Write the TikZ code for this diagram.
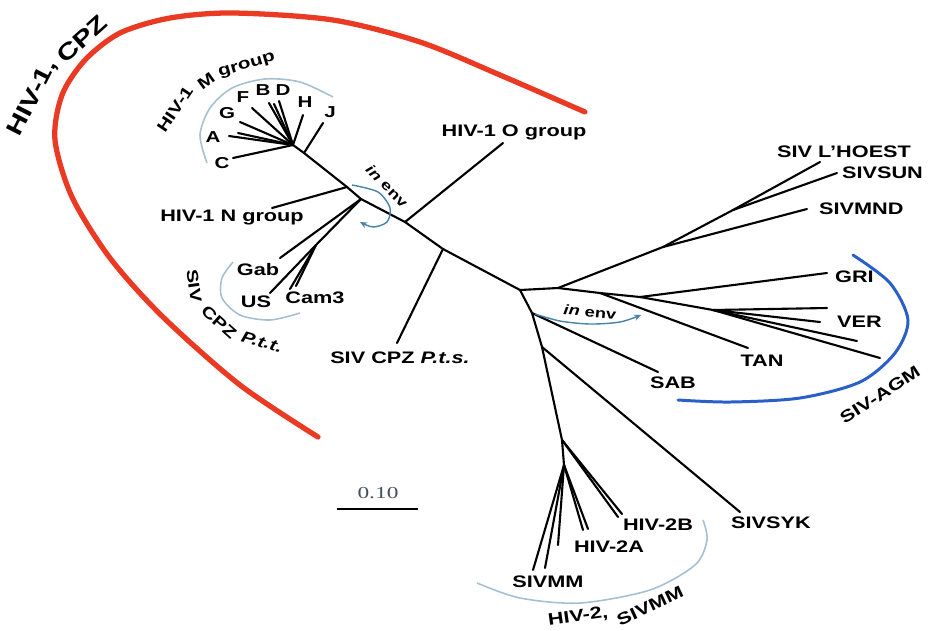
\documentclass[tikz,border=0pt]{standalone}
\usepackage{fontspec}
\setmainfont{Liberation Sans}[FakeStretch=1.3]
\newfontfamily\barfont{Liberation Serif}[FakeStretch=1.4]
\usetikzlibrary{arrows.meta}
\definecolor{cpzRed}{RGB}{234, 58, 36}
\definecolor{agmBlue}{RGB}{40, 95, 200}
\definecolor{arcGray}{RGB}{165, 192, 210}
\definecolor{envBlue}{RGB}{70, 130, 170}
\definecolor{barGray}{RGB}{70, 80, 90}
\newcommand{\lblfont}{\fontsize{9.5}{11}\selectfont\bfseries}
\tikzset{
    treeEdge/.style={
        line width=1.2pt, draw=black, line cap=round
    },
    leafLabel/.style={
        font=\lblfont, inner sep=1pt
    },
    subLabel/.style={
        font=\fontsize{9}{10}\selectfont\bfseries, inner sep=0pt
    },
    groupLabel/.style={
        font=\fontsize{9}{10}\selectfont\bfseries, inner sep=0pt
    },
    cpzLabel/.style={
        font=\fontsize{13}{15}\selectfont\bfseries, inner sep=0pt
    },
    envLabel/.style={
        font=\fontsize{8}{9}\selectfont\bfseries, inner sep=0pt
    },
    envArrow/.style={
        draw=envBlue, line width=0.8pt,
        -{Stealth[length=4pt, width=3.5pt]}
    },
    groupArc/.style={
        draw=arcGray, line width=0.9pt
    }
}

\begin{document}
\begin{tikzpicture}[x=0.02cm, y=-0.02cm]

	\useasboundingbox (0,0) rectangle (936,630);

	% =========================================================
	% Tree vertices
	% =========================================================

	% backbone
	\coordinate (m0) at (293,145);
	\coordinate (mJ) at (304,153);
	\coordinate (nN) at (347,187);
	\coordinate (nT) at (361,199);
	\coordinate (nO) at (405,222);
	\coordinate (nS) at (443,249);
	\coordinate (c0) at (520,290);

	% HIV-1 M group leaves
	\coordinate (lC)  at (233,158);
	\coordinate (lA1) at (229,136);
	\coordinate (lA2) at (238,133);
	\coordinate (lG)  at (240,122);
	\coordinate (lF)  at (252,108);
	\coordinate (lB1) at (269,103);
	\coordinate (lB2) at (274,104);
	\coordinate (lD)  at (279,101);
	\coordinate (lH)  at (303,115);
	\coordinate (lJ)  at (323,123);

	% HIV-1 N, O and chimpanzee leaves
	\coordinate (lN)    at (272,208);
	\coordinate (lO)    at (503,143);
	\coordinate (lPts)  at (397,343);
	\coordinate (t1)    at (316,245);
	\coordinate (lGab)  at (280,258);
	\coordinate (lUS)   at (270,293);
	\coordinate (lCam1) at (290,289);
	\coordinate (lCam2) at (296,286);

	% SIV side
	\coordinate (s1) at (558,288);
	\coordinate (s2) at (663,247);
	\coordinate (s3) at (733,210);
	\coordinate (lLh)  at (820,162);
	\coordinate (lSun) at (837,173);
	\coordinate (lMnd) at (807,209);
	\coordinate (a1) at (600,293);
	\coordinate (a2) at (640,297);
	\coordinate (a3) at (713,310);
	\coordinate (lTan) at (748,348);
	\coordinate (lGri) at (827,273);
	\coordinate (lV1)  at (827,308);
	\coordinate (lV2)  at (820,322);
	\coordinate (lV3)  at (857,341);
	\coordinate (lV4)  at (880,358);

	% SAB, SYK and HIV-2
	\coordinate (b1) at (532,313);
	\coordinate (b2) at (542,347);
	\coordinate (h1) at (562,440);
	\coordinate (h2) at (564,465);
	\coordinate (lSab) at (658,372);
	\coordinate (lSyk) at (740,512);
	\coordinate (l2B1) at (618,517);
	\coordinate (l2B2) at (622,514);
	\coordinate (l2A1) at (583,530);
	\coordinate (l2A2) at (588,529);
	\coordinate (l2A3) at (558,545);
	\coordinate (lMm1) at (533,570);
	\coordinate (lMm2) at (545,568);

	% =========================================================
	% Branches
	% =========================================================

	\foreach \a/\b in {m0/mJ, mJ/nN, nN/nT, nT/nO, nO/nS, nS/c0,
			m0/lC, m0/lA1, m0/lA2, m0/lG, m0/lF, m0/lB1, m0/lB2, m0/lD, m0/lH, mJ/lJ,
			nN/lN, nO/lO, nS/lPts, nT/lGab, nT/t1, t1/lUS, t1/lCam1, t1/lCam2,
			c0/s1, s1/s2, s2/s3, s3/lLh, s3/lSun, s2/lMnd,
			s1/a1, a1/lTan, a1/a2, a2/lGri, a2/a3, a3/lV1, a3/lV2, a3/lV3, a3/lV4,
			c0/b1, b1/lSab, b1/b2, b2/lSyk, b2/h1, h1/l2B1, h1/l2B2, h1/h2,
			h2/l2A1, h2/l2A2, h2/l2A3, h2/lMm1, h2/lMm2} {
			\draw [treeEdge] (\a) -- (\b);
		}

	% =========================================================
	% Leaf labels
	% =========================================================

	\node [subLabel] (labA) at (213,137) {A};
	\node [subLabel] (labB) at (263,90) {B};
	\node [subLabel] (labC) at (222,163) {C};
	\node [subLabel] (labD) at (283,90) {D};
	\node [subLabel] (labF) at (243,97) {F};
	\node [subLabel] (labG) at (227,113) {G};
	\node [subLabel] (labH) at (305,102) {H};
	\node [subLabel] (labJ) at (330,112) {J};

	\node [leafLabel] (labN)   at (232,218) {HIV-1 N group};
	\node [leafLabel] (labO)   at (514,132) {HIV-1 O group};
	\node [leafLabel] (labPts) at (400,358) {SIV CPZ \textit{P.t.s.}};
	\node [leafLabel] (labGab) at (258,270) {Gab};
	\node [leafLabel] (labUS)  at (256,302) {US};
	\node [leafLabel] (labCam) at (315,298) {Cam3};

	\node [leafLabel, anchor=west] (labLh)  at (775,152) {SIV L'HOEST};
	\node [leafLabel, anchor=west] (labSun) at (840,173) {SIVSUN};
	\node [leafLabel, anchor=west] (labMnd) at (817,209) {SIVMND};
	\node [leafLabel, anchor=west] (labGri) at (833,277) {GRI};
	\node [leafLabel, anchor=west] (labVer) at (835,322) {VER};
	\node [leafLabel] (labTan) at (762,361) {TAN};
	\node [leafLabel] (labSab) at (673,383) {SAB};
	\node [leafLabel, anchor=west] (labSyk) at (729,523) {SIVSYK};
	\node [leafLabel] (lab2B)  at (658,525) {HIV-2B};
	\node [leafLabel] (lab2A)  at (609,547) {HIV-2A};
	\node [leafLabel] (labMm)  at (548,582) {SIVMM};

	% =========================================================
	% Recombination marks
	% =========================================================

	\node [envLabel, rotate=-45] (env1) at (387,186) {\textit{in} env};
	\node [envLabel, rotate=-6] (env2) at (590,312) {\textit{in} env};

	\draw [envArrow] plot [smooth] coordinates
		{(352,185) (378,192) (390,208) (387,222) (373,227) (360,222)};
	\draw [envArrow] plot [smooth] coordinates
		{(535,314) (560,321) (590,324) (620,322) (641,315)};

	% =========================================================
	% Group arcs
	% =========================================================

	\draw [groupArc] plot [smooth] coordinates
		{(333,97) (300,82) (265,79) (232,88) (210,108) (200,135) (207,163)};
	\draw [groupArc] plot [smooth] coordinates
		{(233,262) (222,278) (222,298) (240,315) (270,320) (300,313)};
	\draw [groupArc] plot [smooth] coordinates
		{(477,583) (520,598) (580,603) (650,590) (695,565) (707,540) (703,520)};

	\draw [agmBlue, line width=1.7pt, line cap=round] plot [smooth] coordinates
		{(853,255) (890,283) (908,320) (895,353) (860,382) (800,398) (730,402) (678,400)};

	\draw [cpzRed, line width=3pt, line cap=round] plot [smooth] coordinates
		{(318,437) (240,385) (163,317) (110,258) (72,197) (55,140) (62,95) (85,60)
		 (120,33) (170,18) (233,13) (333,20) (420,42) (500,75) (585,112)};

	% =========================================================
	% Group names
	% =========================================================

	\node [cpzLabel, rotate=63] (cpzA) at (33,98) {HIV-1,};
	\node [cpzLabel, rotate=42] (cpzB) at (82,39) {CPZ};

	\node [groupLabel, rotate=56] (mgA) at (175,109) {HIV-1};
	\node [groupLabel, rotate=36] (mgB) at (206,81) {M};
	\node [groupLabel, rotate=16] (mgC) at (247,66) {group};

	\node [groupLabel, rotate=-82] (pttA) at (194,286) {SIV};
	\node [groupLabel, rotate=-42] (pttB) at (219,322) {CPZ};
	\node [groupLabel, rotate=-16] (pttC) at (262,342) {\textit{P.t.t.}};

	\node [leafLabel, rotate=8] (h2A) at (578,617) {HIV-2,};
	\node [leafLabel, rotate=25] (h2B) at (650,606) {SIVMM};

	\node [leafLabel, rotate=33] (agm) at (880,395) {SIV-AGM};

	% =========================================================
	% Scale bar
	% =========================================================

	\coordinate (sb1) at (337,509);
	\coordinate (sb2) at (418,509);
	\draw [line width=1.1pt] (sb1) -- (sb2);
	\node [font=\barfont\fontsize{9.5}{11}\selectfont, text=barGray, inner sep=0pt]
		(barTxt) at (378,493) {0.10};

\end{tikzpicture}
\end{document}
